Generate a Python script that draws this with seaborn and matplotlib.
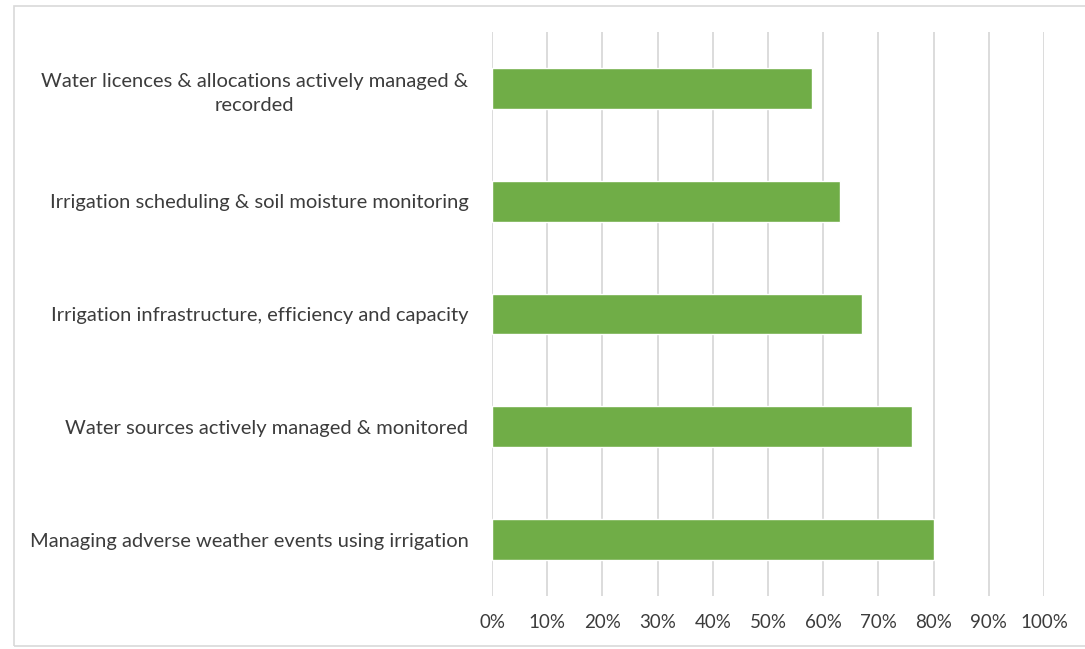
import matplotlib
matplotlib.use("Agg")
import matplotlib.pyplot as plt
import seaborn as sns
import pandas as pd
from matplotlib.patches import Rectangle
from matplotlib.ticker import FuncFormatter, MultipleLocator

categories = [
    "Water licences & allocations actively managed &\nrecorded",
    "Irrigation scheduling & soil moisture monitoring",
    "Irrigation infrastructure, efficiency and capacity",
    "Water sources actively managed & monitored",
    "Managing adverse weather events using irrigation",
]
values = [0.58, 0.63, 0.67, 0.76, 0.80]

sns.set_theme(style="white")
plt.rcParams["font.family"] = ["Lato", "DejaVu Sans"]

df = pd.DataFrame({"practice": categories, "share": values})

fig = plt.figure(figsize=(10.85, 6.49), dpi=100)
ax = fig.add_axes([492 / 1085, 1 - 596 / 649, (1044 - 492) / 1085, (596 - 32) / 649])

sns.barplot(data=df, x="share", y="practice", orient="h", color="#70AD47",
            saturation=1, width=0.36, ax=ax, zorder=3)

ax.set_xlim(0, 1.0)
ax.xaxis.set_major_locator(MultipleLocator(0.1))
ax.xaxis.set_major_formatter(FuncFormatter(lambda v, _: f"{v * 100:.0f}%"))
ax.grid(axis="x", color="#D9D9D9", linewidth=1.3, zorder=0)
ax.grid(axis="y", visible=False)
for s in ax.spines.values():
    s.set_visible(False)
ax.set_xlabel("")
ax.set_ylabel("")
ax.tick_params(axis="x", length=0, pad=13, labelsize=13.5, labelcolor="#3C3C3C")
ax.tick_params(axis="y", length=0, pad=17, labelsize=14.5, labelcolor="#3C3C3C")
for lbl in ax.get_yticklabels():
    lbl.set_multialignment("center")
    lbl.set_linespacing(1.5)

# outer chart frame
fig.patches.append(Rectangle((14 / 1085, 1 - 646 / 649), (1085 - 14) / 1085 + 0.01,
                             (646 - 6) / 649, transform=fig.transFigure,
                             fill=False, edgecolor="#D9D9D9", linewidth=1.2))

fig.savefig("out.png", dpi=100, facecolor="white")
